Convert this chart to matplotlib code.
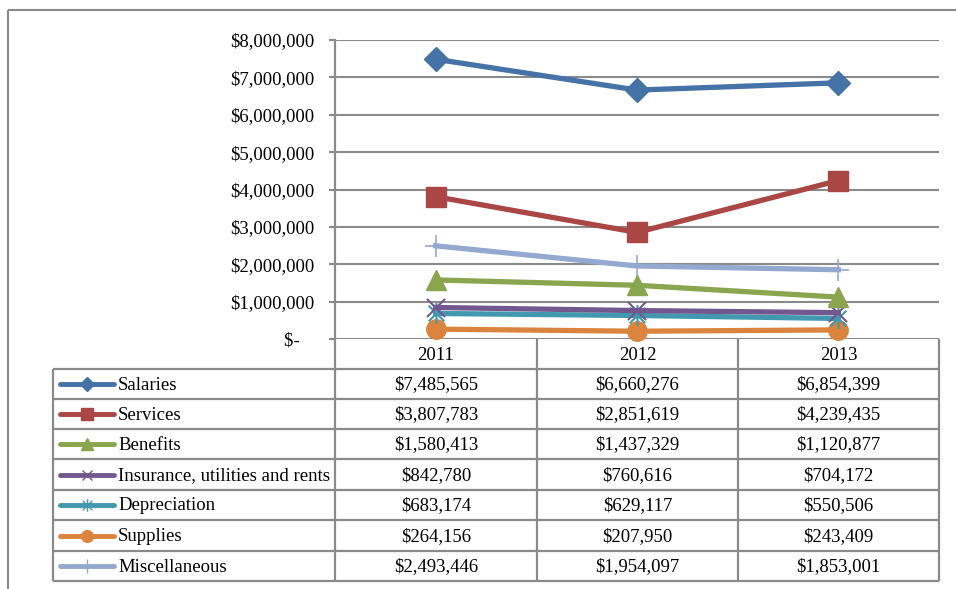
import matplotlib
matplotlib.use("Agg")
import matplotlib.pyplot as plt
from matplotlib.path import Path
from matplotlib.lines import Line2D

plt.rcParams['font.family'] = ['Liberation Serif', 'DejaVu Serif']

years = ['2011', '2012', '2013']
series_names = ['Salaries', 'Services', 'Benefits', 'Insurance, utilities and rents',
                'Depreciation', 'Supplies', 'Miscellaneous']
salaries = [7485565, 6660276, 6854399]
services = [3807783, 2851619, 4239435]
benefits = [1580413, 1437329, 1120877]
insurance = [842780, 760616, 704172]
depreciation = [683174, 629117, 550506]
supplies = [264156, 207950, 243409]
miscellaneous = [2493446, 1954097, 1853001]
yticks = [0, 1000000, 2000000, 3000000, 4000000, 5000000, 6000000, 7000000, 8000000]

values = [salaries, services, benefits, insurance, depreciation, supplies, miscellaneous]
colors = ['#4572A7', '#AA4643', '#89A54E', '#71588F', '#4198AF', '#DB843D', '#93A9CF']

star = Path([(0, -1), (0, 1), (-0.75, -0.75), (0.75, 0.75), (-0.75, 0.75), (0.75, -0.75)],
            [Path.MOVETO, Path.LINETO, Path.MOVETO, Path.LINETO, Path.MOVETO, Path.LINETO])
markers = ['D', 's', '^', 'x', star, 'o', '+']
msizes = [12, 14, 14, 13, 15, 14, 16]
mews = [1, 1, 1, 1.5, 1.5, 1, 1.2]

W, H = 956, 589
fig = plt.figure(figsize=(W / 100, H / 100), dpi=100)
FS = 13.5
GREY = '#8a8a8a'

# background overlay in pixel coords
bg = fig.add_axes([0, 0, 1, 1], zorder=0)
bg.set_xlim(0, W)
bg.set_ylim(H, 0)
bg.axis('off')

def px(x0, y0, x1, y1, lw=1.6, color=GREY):
    bg.add_line(Line2D([x0, x1], [y0, y1], color=color, lw=lw, solid_capstyle='butt'))

# chart border
px(8, 10, W, 10, lw=1.5)
px(8, 10, 8, H, lw=1.5)

# plot area
L, R, T, B = 335, 939, 40, 339
ax = fig.add_axes([L / W, 1 - B / H, (R - L) / W, (B - T) / H], zorder=2)
ax.patch.set_alpha(0)
ax.set_xlim(-0.5, 2.5)
ax.set_ylim(0, 8000000)
ax.set_yticks(yticks)
ax.set_yticklabels(['$-   '] + ['${:,}'.format(v) for v in yticks[1:]], fontsize=FS)
ax.tick_params(axis='y', length=4, width=1.5, color=GREY, pad=11)
ax.set_xticks([])
for s in ['top', 'right', 'bottom']:
    ax.spines[s].set_visible(False)
ax.spines['left'].set_color(GREY)
ax.spines['left'].set_linewidth(1.6)
ax.yaxis.grid(True, color=GREY, lw=1.5)
ax.set_axisbelow(True)

xs = list(range(len(years)))
order = [6, 5, 4, 3, 2, 1, 0]
for i in order:
    ax.plot(xs, values[i], color=colors[i], lw=3.8, marker=markers[i], ms=msizes[i],
            mec=colors[i], mfc=colors[i], mew=mews[i], clip_on=False, zorder=3 + (6 - i) * 0.1)

# table
col_x = [53, 335, 537, 738, 939]
row_y = [339, 369, 399, 429, 459, 490, 520, 551, 581]
px(col_x[0], row_y[1], R, row_y[1])
for y in row_y[2:]:
    px(col_x[0], y, R, y)
px(col_x[0], row_y[1], col_x[0], row_y[-1])
for x in col_x[1:]:
    px(x, row_y[0], x, row_y[-1])

for j, yr in enumerate(years):
    cx = (col_x[j + 1] + col_x[j + 2]) / 2
    bg.text(cx, (row_y[0] + row_y[1]) / 2 + 1, yr, ha='center', va='center', fontsize=FS)

for i, name in enumerate(series_names):
    cy = (row_y[i + 1] + row_y[i + 2]) / 2
    bg.add_line(Line2D([60, 114], [cy, cy], color=colors[i], lw=3.5, solid_capstyle='round'))
    bg.add_line(Line2D([87], [cy], color=colors[i], marker=markers[i], ms=msizes[i] * 0.6,
                       mfc=colors[i], mec=colors[i], mew=1))
    bg.text(118, cy + 1, name, ha='left', va='center', fontsize=FS)
    for j in range(len(years)):
        cx = (col_x[j + 1] + col_x[j + 2]) / 2
        bg.text(cx, cy + 1, '${:,}'.format(values[i][j]), ha='center', va='center', fontsize=FS)

fig.savefig('out.png', dpi=100)
